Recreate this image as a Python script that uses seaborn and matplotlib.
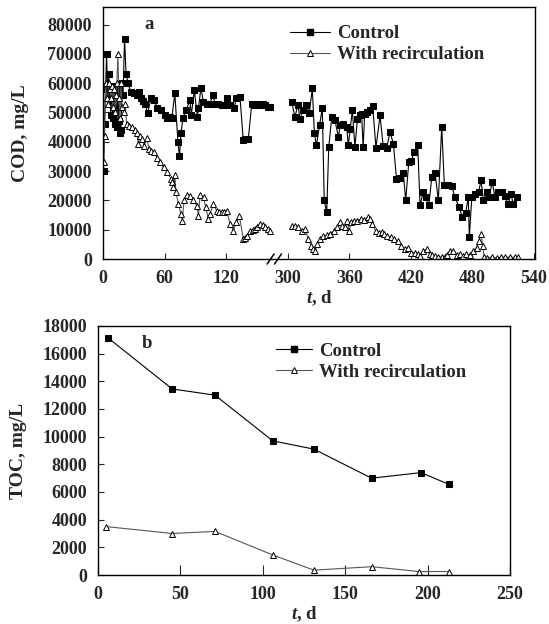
import numpy as np
import pandas as pd
import matplotlib
matplotlib.use("Agg")
import matplotlib.pyplot as plt
import seaborn as sns
from matplotlib.lines import Line2D

# ---------------- data: panel a (COD, mg/L) ----------------
ctrl_t_a = [0.5, 1.5, 2.5, 3.5, 4.5, 5.5, 6.5, 7.5, 8.5, 9.5, 10.5, 11.5, 12.5, 13.5, 14.5,
            15.5, 16.5, 17.5, 18.5, 19.5, 21, 22.5, 24.5, 27, 30, 33, 35.5, 37, 39, 41, 43.5,
            46.8, 50, 53, 57, 60, 62, 65, 67, 70, 73, 74.5, 76, 78, 81, 84.8, 86, 89, 92, 93,
            95.5, 97.8, 101, 104, 107.5, 109, 112, 115.5, 118.8, 121, 124, 127.7, 130, 133.5,
            136.7, 138.3, 141.6, 145, 148, 150.5, 153, 155.5, 158, 160.5, 162.8]
ctrl_v_a = [30000, 46000, 58000, 70000, 56000, 63000, 58000, 49000, 59000, 48000, 57000, 46000,
            56000, 45000, 58000, 47000, 43000, 44000, 60000, 56000, 75000, 63000, 60000, 57000,
            56500, 56000, 57000, 55000, 54000, 53000, 49700, 54900, 54300, 51500, 51000, 49000,
            48000, 48500, 48000, 56500, 40000, 35000, 42900, 48000, 50800, 54200, 49000, 57600,
            48500, 51400, 58500, 53600, 53000, 53000, 56000, 53000, 53000, 52500, 52500, 54800,
            52500, 51400, 54800, 55300, 40500, 41000, 41000, 53000, 52500, 53000, 52500, 52800,
            52500, 52000, 51900]
ctrl_t_b = [303.9, 307, 310, 312, 315, 318, 321, 324, 326, 328, 331, 333.7, 335.6, 338, 340,
            342.9, 346, 349.5, 351, 354, 357.5, 359, 361, 363, 365.5, 368, 370, 372, 373.5, 375,
            377.5, 380, 382.8, 386, 390, 393, 396.5, 399.7, 403, 406, 409.5, 412.7, 415, 418,
            420.5, 423.4, 426.7, 429, 432, 434.5, 437.5, 440.4, 443.6, 446.8, 450.1, 452.7,
            456.6, 459.8, 463, 467, 470.3, 473.5, 476, 477, 479.4, 482.6, 486, 488.4, 490.7,
            494, 496, 499.4, 502, 504.5, 508.4, 511.6, 514.9, 517.5, 519.8, 523.8]
ctrl_v_b = [53600, 48500, 52500, 47800, 50800, 52500, 49700, 58200, 42900, 38800, 45600, 51400,
            20000, 16000, 38200, 48500, 47300, 41600, 45600, 46200, 45000, 38800, 44500, 50800,
            38200, 47800, 49000, 49400, 38200, 49400, 50000, 50800, 52100, 38000, 49000, 38600,
            38000, 43300, 39400, 27400, 27600, 29200, 20000, 33100, 33500, 36500, 38800, 18300,
            22800, 21000, 18300, 27900, 29200, 20000, 45100, 25100, 25100, 25000, 21100, 17700,
            14200, 15800, 21000, 7400, 21000, 22100, 22800, 26800, 20000, 22800, 21000, 26200,
            21000, 22800, 23000, 21500, 18700, 22200, 18800, 21000]

rec_t_a = [0.5, 1.5, 2.5, 3.5, 4.5, 5.5, 6.5, 7.5, 8.5, 9.5, 10.5, 11.5, 12.5, 13.5, 14.5, 15.5,
           16.5, 17.5, 18.5, 20, 21.5, 23, 25, 28, 31.5, 33, 34.4, 36, 38, 40, 42.6, 45, 47,
           49.4, 53, 56, 59, 62.5, 66, 67, 68.5, 70, 71, 73.4, 76, 77.3, 79, 82, 85, 88, 91.5,
           93, 94.5, 98, 100, 102.7, 104, 107.5, 110.8, 113, 115.7, 118, 120.5, 123.8, 127,
           130, 132.8, 136.8, 138.5, 140, 143, 146, 148, 150.5, 153, 155.5, 158, 160.5, 163]
rec_v_a = [33000, 42000, 60000, 55000, 53000, 60000, 58000, 55000, 59000, 52000, 58000, 50000,
           56000, 60000, 70000, 55000, 48000, 60000, 52000, 50000, 53000, 46000, 45500, 45000,
           44000, 43000, 39400, 42000, 41000, 38500, 41200, 37500, 37000, 36500, 34500, 33000,
           31300, 29600, 27400, 26200, 24500, 28500, 23000, 18800, 15500, 13100, 20000, 22000,
           21500, 20000, 18200, 14800, 21700, 21000, 17700, 13800, 15300, 18600, 16500, 16000,
           16000, 16200, 16500, 12000, 9700, 12500, 14800, 6800, 7000, 7800, 9700, 10000,
           10300, 11000, 12100, 11500, 11000, 10300, 9700]
rec_t_b = [304, 307, 310, 313.5, 317, 320, 322.5, 324.5, 326.7, 329, 331.6, 334.8, 338, 341.5,
           345, 348, 350.8, 353, 356, 358, 359.6, 362, 364.5, 367.7, 371, 374, 378, 380, 382.5,
           385.6, 389, 391.5, 393.9, 397, 400.3, 403.5, 407.4, 410.6, 414, 417, 420, 424, 426.5,
           429, 432, 435.5, 438.5, 441, 443.6, 446.8, 450, 453, 455.5, 458, 461, 464.7, 468,
           471, 474, 477.6, 481, 484, 486.5, 488.4, 490, 491.4, 494, 499, 504, 508, 511.6,
           516.5, 521.4, 524]
rec_v_b = [11400, 11400, 10800, 9700, 10300, 6900, 4600, 3300, 2700, 5000, 6900, 7700, 8100,
           8700, 9700, 10800, 12500, 11400, 10800, 13100, 9700, 12500, 13100, 13100, 13600,
           13300, 14200, 13600, 12000, 9700, 9000, 9300, 8700, 8000, 7500, 6900, 6000, 4600,
           3300, 3800, 2200, 2200, 1800, 1100, 2700, 3300, 1600, 1300, 1100, 600, 700, 600,
           1500, 2800, 2800, 1400, 1600, 1100, 1600, 1400, 2800, 3900, 6300, 8600, 4400, 600,
           500, 600, 400, 600, 700, 600, 600, 600]

cod_ticks = [0, 60, 120, 300, 360, 420, 480, 540]
cod_yticks = [0, 10000, 20000, 30000, 40000, 50000, 60000, 70000, 80000]

# ---------------- data: panel b (TOC, mg/L) ----------------
toc_ctrl_t = [6, 45, 71, 106, 131, 166, 196, 213]
toc_ctrl_v = [17150, 13450, 13000, 9700, 9100, 7000, 7400, 6550]
toc_rec_t = [5, 45, 71, 106, 131, 166, 195, 213]
toc_rec_v = [3500, 3000, 3150, 1450, 350, 600, 250, 250]
toc_xticks = [0, 50, 100, 150, 200, 250]
toc_yticks = [0, 2000, 4000, 6000, 8000, 10000, 12000, 14000, 16000, 18000]

labels = ["Control", "With recirculation"]

# ---------------- style ----------------
sns.set_style("ticks")
plt.rcParams["font.family"] = ["Liberation Serif", "DejaVu Serif"]
plt.rcParams["font.weight"] = "bold"
plt.rcParams["axes.labelweight"] = "bold"
plt.rcParams["mathtext.fontset"] = "custom"
plt.rcParams["mathtext.it"] = "Liberation Serif:italic:bold"
plt.rcParams["mathtext.rm"] = "Liberation Serif:bold"

TICK_FS = 13
LEG_FS = 13.5
LAB_FS = 14
ctrl_style = dict(color="black", linewidth=0.8, marker="s", markersize=4,
                  markerfacecolor="black", markeredgecolor="black")
rec_style = dict(color="#555555", linewidth=0.8, marker="^", markersize=5,
                 markerfacecolor="white", markeredgecolor="black", markeredgewidth=0.7)

fig = plt.figure(figsize=(5.49, 6.24), dpi=100)
ax1 = fig.add_axes([103/549, 1-259/624, (535-103)/549, (259-7)/624])
ax2 = fig.add_axes([98/549, 1-575/624, (510-98)/549, (575-326)/624])


# broken x axis: 180..300 d collapsed
def fwd(t):
    t = np.asarray(t, dtype=float)
    return np.where(t <= 180, t, np.where(t >= 300, t - 120, 180.0))


def inv(d):
    d = np.asarray(d, dtype=float)
    return np.where(d <= 180, d, d + 120)


ax1.set_xscale("function", functions=(fwd, inv))

for tt, vv, st in [(ctrl_t_a, ctrl_v_a, ctrl_style), (ctrl_t_b, ctrl_v_b, ctrl_style),
                   (rec_t_a, rec_v_a, rec_style), (rec_t_b, rec_v_b, rec_style)]:
    sns.lineplot(x=tt, y=vv, ax=ax1, estimator=None, sort=False, **st)

ax1.set_xlim(0, 541)
ax1.set_ylim(0, 86000)
ax1.set_xticks(cod_ticks)
ax1.set_xticklabels([str(v) for v in cod_ticks])
ax1.set_yticks(cod_yticks)
ax1.set_yticklabels([str(v) for v in cod_yticks])
ax1.set_xlabel(r"$t$, d", fontsize=LEG_FS, labelpad=1)
ax1.set_ylabel("COD, mg/L", fontsize=LAB_FS, labelpad=13)
ax1.text(0.107, 0.93, "a", transform=ax1.transAxes, fontsize=LEG_FS, fontweight="bold",
         ha="center", va="center")

# break marks
for cx in (0.388, 0.405):
    ax1.plot([cx - 0.008, cx + 0.008], [-0.02, 0.02], transform=ax1.transAxes,
             color="black", lw=1.1, clip_on=False)

sns.lineplot(x=toc_ctrl_t, y=toc_ctrl_v, ax=ax2, estimator=None, sort=False, **ctrl_style)
sns.lineplot(x=toc_rec_t, y=toc_rec_v, ax=ax2, estimator=None, sort=False, **rec_style)
ax2.set_xlim(0, 250)
ax2.set_ylim(0, 18000)
ax2.set_xticks(toc_xticks)
ax2.set_yticks(toc_yticks)
ax2.set_yticklabels([str(v) for v in toc_yticks])
ax2.set_xlabel(r"$t$, d", fontsize=LEG_FS, labelpad=1)
ax2.set_ylabel("TOC, mg/L", fontsize=LAB_FS, labelpad=11)
ax2.text(0.12, 0.93, "b", transform=ax2.transAxes, fontsize=LEG_FS, fontweight="bold",
         ha="center", va="center")

for ax in (ax1, ax2):
    for s in ax.spines.values():
        s.set_visible(True)
        s.set_linewidth(1.0)
        s.set_color("black")
    ax.tick_params(direction="in", length=4, width=0.8, labelsize=TICK_FS)
    ax.tick_params(axis="x", pad=8)
    ax.tick_params(axis="y", pad=8)
    for lab in ax.get_xticklabels() + ax.get_yticklabels():
        lab.set_fontweight("bold")
ax2.tick_params(axis="x", length=7)

handles = [Line2D([], [], **ctrl_style), Line2D([], [], **rec_style)]
ax1.legend(handles, labels, loc="upper left", bbox_to_anchor=(0.403, 0.98), frameon=False,
           fontsize=LEG_FS, handlelength=2.1, handletextpad=0.4, labelspacing=0.2,
           borderaxespad=0.3)
ax2.legend(handles, labels, loc="upper left", bbox_to_anchor=(0.40, 0.985), frameon=False,
           fontsize=LEG_FS, handlelength=1.9, handletextpad=0.4, labelspacing=0.2,
           borderaxespad=0.3)

fig.savefig("out.png", dpi=100)
